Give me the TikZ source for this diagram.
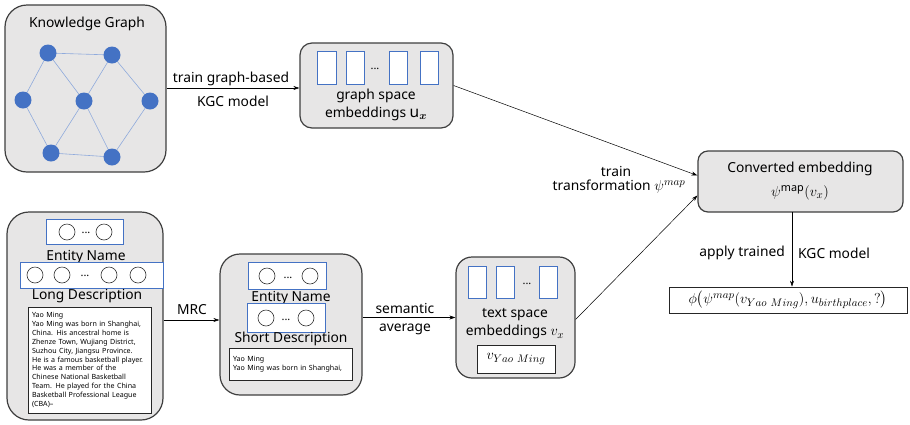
\documentclass[tikz,border=0pt]{standalone}
\usepackage{amsmath}
\usepackage{fontspec}
\setmainfont{Noto Sans}
\usetikzlibrary{arrows.meta}
\definecolor{boxgray}{HTML}{E7E6E6}
\definecolor{boxline}{HTML}{3F3F3F}
\definecolor{vecblue}{HTML}{4472C4}
\definecolor{dotblue}{HTML}{4472C4}
\definecolor{edgeblue}{HTML}{8FAADC}
% larger math inside running labels
\newcommand\bigmath[1]{{\fontsize{15.5}{17}\selectfont$#1$}}
\tikzset{
  panel/.style={draw=boxline, line width=1.2pt, fill=boxgray, rounded corners=#1, inner sep=0pt},
  panel/.default=14pt,
  vecslot/.style={draw=vecblue, fill=white, line width=0.8pt, minimum width=18, minimum height=33, inner sep=0pt},
  tokbox/.style={draw=vecblue, fill=white, line width=0.8pt, inner sep=0pt},
  tok/.style={circle, draw=black!80, fill=white, line width=0.6pt, minimum size=16, inner sep=0pt},
  kgnode/.style={circle, fill=dotblue, minimum size=17, inner sep=0pt},
  kgedge/.style={draw=edgeblue, line width=0.6pt},
  arr/.style={-{Stealth[length=6pt,width=4pt]}, line width=0.5pt},
  lbl/.style={font=\fontsize{13.8}{17}\selectfont, inner sep=0pt, align=center},
  txtbox/.style={draw=black!85, fill=white, line width=0.9pt},
  smalltext/.style={font=\fontsize{7.1}{8.9}\selectfont, align=left},
  ellip/.style={font=\fontsize{11}{13}\selectfont, inner sep=0pt}
}
\begin{document}
\begin{tikzpicture}[x=1pt,y=-1pt]
\useasboundingbox (0,0) rectangle (910,424);

% ---------- knowledge graph ----------
\node[panel=22pt, minimum width=161, minimum height=167] (kg) at (85.5,88.5) {};
\node[lbl] (kgtitle) at (87,24) {Knowledge Graph};
\draw[kgedge] (48,53) coordinate (p1) -- (112,55) coordinate (p2);
\draw[kgedge] (p1) -- (23,100) coordinate (p3);
\draw[kgedge] (p1) -- (84,101) coordinate (p4);
\draw[kgedge] (p2) -- (p4);
\draw[kgedge] (p2) -- (150,101) coordinate (p5);
\draw[kgedge] (p3) -- (51,153) coordinate (p6);
\draw[kgedge] (p4) -- (p6);
\draw[kgedge] (p4) -- (112,157) coordinate (p7);
\draw[kgedge] (p5) -- (p7);
\draw[kgedge] (p6) -- (p7);
\foreach \p in {p1,p2,p3,p4,p5,p6,p7}
  \node[kgnode] (g-\p) at (\p) {};

% ---------- graph space embeddings ----------
\node[panel=12pt, minimum width=153, minimum height=85] (gs) at (376.5,85.5) {};
\node[vecslot, minimum width=19] (gsa) at (326.5,67.5) {};
\node[vecslot] (gsb) at (355,67.5) {};
\node[ellip] (gsdots) at (375,69) {...};
\node[vecslot] (gsc) at (398,67.5) {};
\node[vecslot] (gsd) at (429,67.5) {};
\node[lbl] (gstxt) at (376,104.5) {graph space\\[1pt]embeddings \bigmath{\mathbf{u}_{\boldsymbol{x}}}};

\draw[arr] (kg.east |- 0,88) coordinate (kgout) -- (kgout -| gs.west);
\node[lbl] (l1) at (231,79) {train graph-based};
\node[lbl] (l2) at (233,101) {KGC model};

% ---------- converted embedding ----------
\node[panel=10pt, minimum width=205, minimum height=61] (conv) at (800.5,181.5) {};
\node[lbl] (convtxt) at (800,169) {Converted embedding};
\node[lbl] (convmath) at (800,193) {\bigmath{\psi^{\mathrm{map}}(v_x)}};

\node[draw=black!85, line width=0.9pt, fill=white, minimum width=238, minimum height=26, inner sep=0pt,
      font=\fontsize{15.2}{17}\selectfont] (res) at (788,300)
  {$\phi\bigl(\psi^{map}(v_{Yao\ Ming}), u_{birthplace},?\bigr)$};

\draw[arr] (792,212) coordinate (convout) -- (convout |- res.north);
\node[lbl, anchor=east] (l3) at (785,253) {apply trained};
\node[lbl, anchor=west] (l4) at (798,253) {KGC model};

% ---------- long description ----------
\node[panel=22pt, minimum width=156, minimum height=208] (lb) at (85,316) {};
\node[tokbox, minimum width=77, minimum height=25] (en1) at (84.5,231.5) {};
\node[tok] (en1a) at (67,232) {};
\node[ellip] (en1d) at (86,233) {...};
\node[tok] (en1b) at (104,232) {};
\node[lbl] (en1l) at (86,257) {Entity Name};
\node[tokbox, minimum width=143, minimum height=26] (ld) at (91.5,275) {};
\node[tok] (lda) at (35,275) {};
\node[tok] (ldb) at (62,275) {};
\node[ellip] (ldd) at (85,276) {...};
\node[tok] (ldc) at (109,275) {};
\node[tok] (lde) at (138,275) {};
\node[lbl] (ldl) at (87,296) {Long Description};
\node[txtbox, minimum width=123, minimum height=106, text width=115, inner sep=4pt, smalltext] (ldt) at (89.5,360)
  {Yao Ming\\
   Yao Ming was born in Shanghai,\\
   China. His ancestral home is\\
   Zhenze Town, Wujiang District,\\
   Suzhou City, Jiangsu Province.\\
   He is a famous basketball player.\\
   He was a member of the\\
   Chinese National Basketball\\
   Team. He played for the China\\
   Basketball Professional League\\
   (CBA)\textendash};

% ---------- short description ----------
\node[panel=20pt, minimum width=142, minimum height=141] (mid) at (291,324.5) {};
\node[tokbox, minimum width=78, minimum height=27] (en2) at (287,275.5) {};
\node[tok] (en2a) at (267,276) {};
\node[ellip] (en2d) at (288,278) {...};
\node[tok] (en2b) at (310,276) {};
\node[lbl] (en2l) at (291,298) {Entity Name};
\node[tokbox, minimum width=78, minimum height=29] (sd) at (286,317.5) {};
\node[tok] (sda) at (266,318) {};
\node[ellip] (sdd) at (286,320) {...};
\node[tok] (sdb) at (306,318) {};
\node[lbl] (sdl) at (291,339) {Short Description};
\node[txtbox, minimum width=123, minimum height=32, text width=115, inner sep=4pt, smalltext] (sdt) at (290.5,364)
  {Yao Ming\\Yao Ming was born in Shanghai,};

\draw[arr] ([yshift=-4pt]lb.east) coordinate (lbout) -- (lbout -| mid.west);
\node[lbl] (l5) at (192,310) {MRC};

% ---------- text space embeddings ----------
\node[panel=16pt, minimum width=119, minimum height=121] (ts) at (515.5,317.5) {};
\node[vecslot, minimum height=32] (tsa) at (477,282) {};
\node[vecslot, minimum height=32] (tsb) at (505,282) {};
\node[ellip] (tsd) at (527,284) {...};
\node[vecslot, minimum height=32] (tsc) at (548,282) {};
\node[lbl] (tstxt) at (515,324) {text space\\[1pt]embeddings \bigmath{v_x}};
\node[txtbox, minimum width=78, minimum height=28, inner sep=0pt, font=\fontsize{15.3}{17}\selectfont] (vym) at (516,359) {$v_{Yao\ Ming}$};

\draw[arr] (ts.west -| mid.east) -- (ts.west);
\node[lbl] (l6) at (405,319) {semantic\\[1pt]average};

% ---------- transformation arrows ----------
\draw[arr] (gs.east) -- ([yshift=6pt]conv.west);
\draw[arr] ([yshift=-2pt]ts.east) -- ([yshift=-14pt]conv.west);
\node[lbl] (l7) at (616,171) {train};
\node[lbl] (l8) at (619,187) {transformation \bigmath{\psi^{map}}};
\end{tikzpicture}
\end{document}
